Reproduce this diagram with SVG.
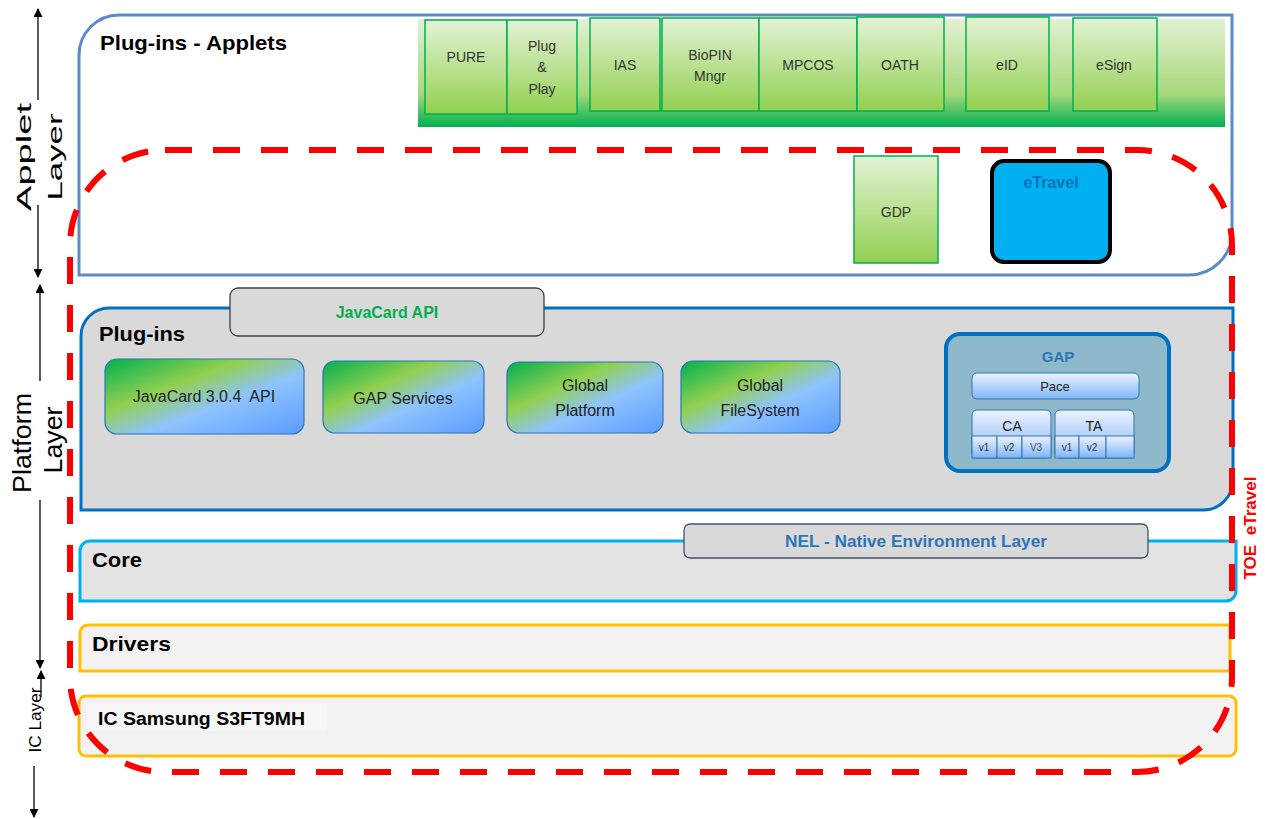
<svg xmlns="http://www.w3.org/2000/svg" width="1265" height="819" viewBox="0 0 1265 819">
<defs>
<linearGradient id="gStrip" x1="0" y1="0" x2="0" y2="1">
<stop offset="0" stop-color="#E2F1D2"/><stop offset="0.7" stop-color="#A6D77A"/><stop offset="1" stop-color="#00B050"/>
</linearGradient>
<linearGradient id="gApp" x1="0" y1="0" x2="0" y2="1">
<stop offset="0" stop-color="#E3F2D5"/><stop offset="1" stop-color="#92D050"/>
</linearGradient>
<linearGradient id="gPlat" x1="0" y1="0" x2="1" y2="1">
<stop offset="0" stop-color="#00B050"/><stop offset="0.35" stop-color="#92D050"/><stop offset="0.6" stop-color="#8EC3FF"/><stop offset="1" stop-color="#5B9BFF"/>
</linearGradient>
<linearGradient id="gBlue" x1="0" y1="0" x2="0" y2="1">
<stop offset="0" stop-color="#EEF3FC"/><stop offset="1" stop-color="#7DB5FA"/>
</linearGradient>
<marker id="ah" viewBox="0 0 10 10" refX="9" refY="5" markerWidth="9" markerHeight="9" orient="auto-start-reverse" markerUnits="userSpaceOnUse">
<path d="M0,0 L10,5 L0,10 Z" fill="#000"/>
</marker>
<style>
text{font-family:"Liberation Sans",Arial,sans-serif;}
.title{font-weight:bold;font-size:21px;fill:#000;}
.app{fill:url(#gApp);stroke:#00B050;stroke-width:1.5;}
.albl{font-size:14px;fill:#333;text-anchor:middle;}
.plat{fill:url(#gPlat);stroke:#2E75B6;stroke-width:1.2;}
.plbl{font-size:16px;fill:#222;text-anchor:middle;}
.cell{fill:url(#gBlue);stroke:#2E75B6;stroke-width:1;}
.axis{stroke:#000;stroke-width:1.3;fill:none;}
.axtxt{fill:#000;text-anchor:middle;}
</style>
</defs>
<rect width="1265" height="819" fill="#fff"/>

<g id="applet-layer">
<path d="M79,55 A40,40 0 0 1 119,15 H1232 V232 A43,43 0 0 1 1189,275 H79 Z" fill="#fff" stroke="#5B8CC8" stroke-width="3"/>
<text class="title" x="100" y="50" textLength="187" lengthAdjust="spacingAndGlyphs">Plug-ins - Applets</text>
</g>

<g id="applet-strip">
<rect x="418" y="19" width="807" height="108" fill="url(#gStrip)"/>
</g>
<g id="PURE"><rect class="app" x="425" y="20" width="82" height="94"/><text class="albl" x="466" y="62">PURE</text></g>
<g id="PlugPlay"><rect class="app" x="507" y="20" width="70" height="94"/><text class="albl" x="542" y="51">Plug</text><text class="albl" x="542" y="72">&amp;</text><text class="albl" x="542" y="94">Play</text></g>
<g id="IAS"><rect class="app" x="590" y="18" width="70" height="93"/><text class="albl" x="625" y="70">IAS</text></g>
<g id="BioPIN"><rect class="app" x="662" y="18" width="97" height="93"/><text class="albl" x="710" y="60">BioPIN</text><text class="albl" x="710" y="81">Mngr</text></g>
<g id="MPCOS"><rect class="app" x="759" y="18" width="98" height="93"/><text class="albl" x="808" y="70">MPCOS</text></g>
<g id="OATH"><rect class="app" x="857" y="17" width="87" height="94"/><text class="albl" x="900" y="70">OATH</text></g>
<g id="eID"><rect class="app" x="966" y="17" width="83" height="94"/><text class="albl" x="1007" y="70">eID</text></g>
<g id="eSign"><rect class="app" x="1073" y="18" width="84" height="93"/><text class="albl" x="1114" y="70">eSign</text></g>
<g id="GDP"><rect class="app" x="854" y="156" width="84" height="107"/><text class="albl" x="896" y="217">GDP</text></g>
<g id="eTravel"><rect x="992" y="161" width="118" height="101" rx="12" fill="#00B0F0" stroke="#000" stroke-width="4"/><text x="1051" y="188" font-size="16" font-weight="bold" fill="#0070C0" text-anchor="middle">eTravel</text></g>

<g id="platform-plugins">
<path d="M81,336 A28,28 0 0 1 109,308 H1233 V480 A30,30 0 0 1 1203,510 H81 Z" fill="#D9D9D9" stroke="#0070C0" stroke-width="3"/>
<text class="title" x="99" y="341" textLength="86" lengthAdjust="spacingAndGlyphs">Plug-ins</text>
</g>
<g id="JavaCardAPI"><rect x="230" y="288" width="314" height="48" rx="8" fill="#D9D9D9" stroke="#404040" stroke-width="1.3"/><text x="387" y="318" font-size="16" font-weight="bold" fill="#00B050" text-anchor="middle">JavaCard API</text></g>
<g id="JC304"><rect class="plat" x="105" y="359" width="199" height="75" rx="12"/><text class="plbl" x="204" y="402" xml:space="preserve">JavaCard 3.0.4  API</text></g>
<g id="GAPServices"><rect class="plat" x="323" y="361" width="161" height="72" rx="12"/><text class="plbl" x="403" y="404">GAP Services</text></g>
<g id="GlobalPlatform"><rect class="plat" x="507" y="362" width="156" height="71" rx="12"/><text class="plbl" x="585" y="391">Global</text><text class="plbl" x="585" y="416">Platform</text></g>
<g id="GlobalFS"><rect class="plat" x="681" y="361" width="159" height="72" rx="12"/><text class="plbl" x="760" y="391">Global</text><text class="plbl" x="760" y="416">FileSystem</text></g>

<g id="GAP">
<rect x="946" y="334" width="223" height="137" rx="14" fill="#8DB9CA" stroke="#0070C0" stroke-width="4"/>
<text x="1058" y="362" font-size="15" font-weight="bold" fill="#2E75B6" text-anchor="middle">GAP</text>
<rect class="cell" x="972" y="373" width="167" height="26" rx="5"/>
<text x="1055" y="391" font-size="13" fill="#222" text-anchor="middle">Pace</text>
<rect class="cell" x="972" y="410" width="79" height="48" rx="5"/>
<text x="1012" y="431" font-size="14" fill="#222" text-anchor="middle">CA</text>
<rect class="cell" x="972" y="436" width="25" height="22"/><rect class="cell" x="997" y="436" width="25" height="22"/><rect class="cell" x="1022" y="436" width="29" height="22"/>
<text x="984" y="451" font-size="10" fill="#333" text-anchor="middle">v1</text><text x="1009" y="451" font-size="10" fill="#333" text-anchor="middle">v2</text><text x="1036" y="451" font-size="10" fill="#555" text-anchor="middle">V3</text>
<rect class="cell" x="1055" y="410" width="79" height="48" rx="5"/>
<text x="1094" y="431" font-size="14" fill="#222" text-anchor="middle">TA</text>
<rect class="cell" x="1055" y="436" width="24" height="22"/><rect class="cell" x="1079" y="436" width="27" height="22"/><rect class="cell" x="1106" y="436" width="28" height="22"/>
<text x="1067" y="451" font-size="10" fill="#333" text-anchor="middle">v1</text><text x="1092" y="451" font-size="10" fill="#333" text-anchor="middle">v2</text>
</g>

<g id="Core">
<path d="M80,551 A10,10 0 0 1 90,541 H1236 V591 A10,10 0 0 1 1226,601 H80 Z" fill="#E3E3E3" stroke="#00B0F0" stroke-width="3"/>
<text class="title" x="92" y="567" textLength="50" lengthAdjust="spacingAndGlyphs">Core</text>
</g>
<g id="NEL"><rect x="684" y="524" width="464" height="34" rx="6" fill="#D9D9D9" stroke="#44546A" stroke-width="1.3"/><text x="916" y="547" font-size="17" font-weight="bold" fill="#2E75B6" text-anchor="middle" textLength="262" lengthAdjust="spacingAndGlyphs">NEL - Native Environment Layer</text></g>

<g id="Drivers">
<path d="M80,633 A8,8 0 0 1 88,625 H1230 V671 H80 Z" fill="#F2F2F2" stroke="#FFC000" stroke-width="3"/>
<text class="title" x="92" y="651" textLength="79" lengthAdjust="spacingAndGlyphs">Drivers</text>
</g>

<g id="IC">
<rect x="79" y="696" width="1157" height="60" rx="7" fill="#F2F2F2" stroke="#FFC000" stroke-width="3"/>
</g>

<g id="TOE">
<rect x="70" y="150" width="1162" height="622" rx="95" fill="none" stroke="#FF0000" stroke-width="6" stroke-dasharray="27 21"/>
<text transform="translate(1256,528) rotate(-90)" font-size="17" font-weight="bold" fill="#FF0000" text-anchor="middle" xml:space="preserve" textLength="103" lengthAdjust="spacingAndGlyphs">TOE  eTravel</text>
</g>

<g id="IC-label">
<rect x="86" y="703" width="241" height="28" fill="#F6F6F6"/>
<text x="98" y="725" font-size="19" font-weight="bold" fill="#000" textLength="207" lengthAdjust="spacingAndGlyphs">IC Samsung S3FT9MH</text>
</g>

<g id="axis">
<line class="axis" x1="38" y1="100" x2="38" y2="9" marker-end="url(#ah)"/>
<line class="axis" x1="38" y1="205" x2="38" y2="277" marker-end="url(#ah)"/>
<text class="axtxt" font-size="20" transform="translate(31,157) rotate(-90)" textLength="108" lengthAdjust="spacingAndGlyphs">Applet</text>
<text class="axtxt" font-size="20" transform="translate(62,157) rotate(-90)" textLength="87" lengthAdjust="spacingAndGlyphs">Layer</text>
<line class="axis" x1="40" y1="381" x2="40" y2="285" marker-end="url(#ah)"/>
<line class="axis" x1="40" y1="500" x2="40" y2="668" marker-end="url(#ah)"/>
<text class="axtxt" font-size="26" transform="translate(31,443) rotate(-90)" textLength="100" lengthAdjust="spacingAndGlyphs">Platform</text>
<text class="axtxt" font-size="26" transform="translate(62,440) rotate(-90)" textLength="67" lengthAdjust="spacingAndGlyphs">Layer</text>
<line class="axis" x1="41" y1="697" x2="41" y2="671" marker-end="url(#ah)"/>
<text transform="translate(41,720) rotate(-90)" font-size="16" fill="#000" text-anchor="middle" textLength="65" lengthAdjust="spacingAndGlyphs">IC Layer</text>
<line class="axis" x1="34" y1="766" x2="34" y2="817" marker-end="url(#ah)"/>
</g>
</svg>
